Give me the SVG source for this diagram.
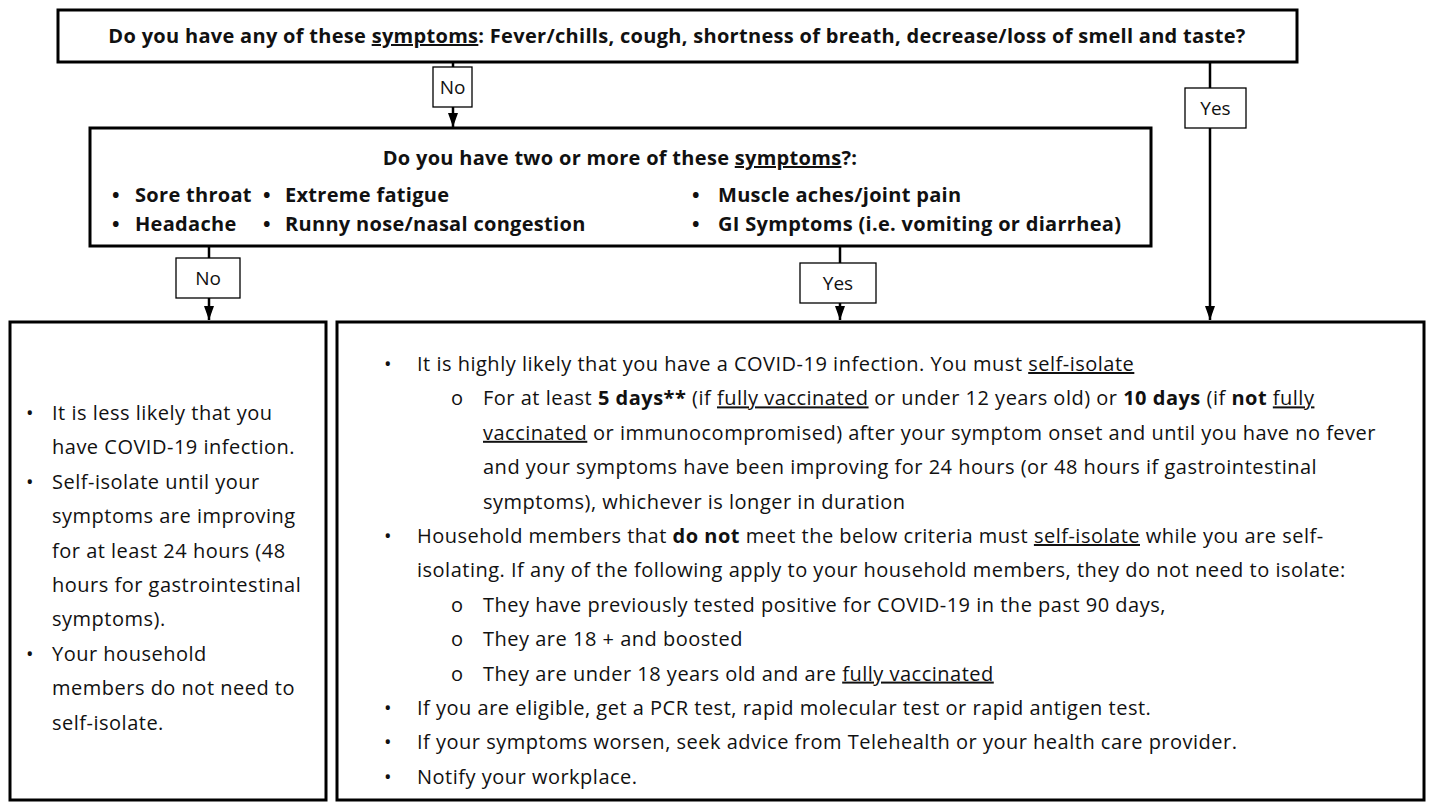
<svg xmlns="http://www.w3.org/2000/svg" width="1432" height="807" viewBox="0 0 1432 807">
<style>
.box{fill:#fff;stroke:#000;stroke-width:3}
.lbl{fill:#fff;stroke:#000;stroke-width:1.3}
.ln{stroke:#000;stroke-width:2.5;fill:none}
text{font-family:"Open Sans","Liberation Sans",sans-serif;fill:#111}
.t{font-size:20px;letter-spacing:0.5px}
.b{font-size:20px;font-weight:bold;letter-spacing:0.3px}
.u{text-decoration:underline}
.bo{font-weight:bold}
.l{font-size:19px}
</style>
<defs>
<marker id="ah" viewBox="0 0 14 10" refX="14" refY="5" markerWidth="14" markerHeight="10" markerUnits="userSpaceOnUse" orient="auto">
<path d="M0,0 L14,5 L0,10 Z" fill="#000"/>
</marker>
</defs>
<rect width="1432" height="807" fill="#fff"/>
<g id="connectors">
<line class="ln" x1="453" y1="62" x2="453" y2="127" marker-end="url(#ah)"/>
<line class="ln" x1="1210" y1="62" x2="1210" y2="320" marker-end="url(#ah)"/>
<line class="ln" x1="209" y1="246" x2="209" y2="320" marker-end="url(#ah)"/>
<line class="ln" x1="840" y1="246" x2="840" y2="320" marker-end="url(#ah)"/>
</g>
<g id="q1">
<rect class="box" x="58" y="10" width="1239" height="52"/>
<text class="b" x="677" y="43" text-anchor="middle">Do you have any of these <tspan class="u">symptoms</tspan>: Fever/chills, cough, shortness of breath, decrease/loss of smell and taste?</text>
</g>
<g id="no1">
<rect class="lbl" x="433" y="67" width="39" height="40"/>
<text class="l" x="452.5" y="94" text-anchor="middle">No</text>
</g>
<g id="yes1">
<rect class="lbl" x="1185" y="88" width="61" height="40"/>
<text class="l" x="1215.5" y="115" text-anchor="middle">Yes</text>
</g>
<g id="q2">
<rect class="box" x="90" y="128" width="1061" height="118"/>
<text class="b" x="620" y="165" text-anchor="middle">Do you have two or more of these <tspan class="u">symptoms</tspan>?:</text>
<text class="b"><tspan x="112" y="202">•</tspan><tspan x="135">Sore throat</tspan><tspan x="263">•</tspan><tspan x="285">Extreme fatigue</tspan><tspan x="692">•</tspan><tspan x="718">Muscle aches/joint pain</tspan></text>
<text class="b"><tspan x="112" y="231">•</tspan><tspan x="135">Headache</tspan><tspan x="263">•</tspan><tspan x="285">Runny nose/nasal congestion</tspan><tspan x="692">•</tspan><tspan x="718">GI Symptoms (i.e. vomiting or diarrhea)</tspan></text>
</g>
<g id="no2">
<rect class="lbl" x="176" y="258" width="64" height="40"/>
<text class="l" x="208" y="285" text-anchor="middle">No</text>
</g>
<g id="yes2">
<rect class="lbl" x="800" y="263" width="76" height="40"/>
<text class="l" x="838" y="290" text-anchor="middle">Yes</text>
</g>
<g id="outNo">
<rect class="box" x="10" y="322" width="316" height="478"/>
<text class="t">
<tspan x="26" y="420">•</tspan><tspan x="52">It is less likely that you</tspan>
<tspan x="52" y="454.4">have COVID-19 infection.</tspan>
<tspan x="26" y="488.8">•</tspan><tspan x="52">Self-isolate until your</tspan>
<tspan x="52" y="523.2">symptoms are improving</tspan>
<tspan x="52" y="557.6">for at least 24 hours (48</tspan>
<tspan x="52" y="592">hours for gastrointestinal</tspan>
<tspan x="52" y="626.4">symptoms).</tspan>
<tspan x="26" y="660.8">•</tspan><tspan x="52">Your household</tspan>
<tspan x="52" y="695.2">members do not need to</tspan>
<tspan x="52" y="729.6">self-isolate.</tspan>
</text>
</g>
<g id="outYes">
<rect class="box" x="337" y="322" width="1087" height="478"/>
<text class="t">
<tspan x="384" y="371">•</tspan><tspan x="417">It is highly likely that you have a COVID-19 infection. You must </tspan><tspan class="u">self-isolate</tspan>
<tspan x="451" y="405.4">o</tspan><tspan x="483">For at least </tspan><tspan class="bo">5 days**</tspan><tspan> (if </tspan><tspan class="u">fully vaccinated</tspan><tspan> or under 12 years old) or </tspan><tspan class="bo">10 days</tspan><tspan> (if </tspan><tspan class="bo">not</tspan><tspan> </tspan><tspan class="u">fully</tspan>
<tspan x="483" y="439.8" class="u">vaccinated</tspan><tspan> or immunocompromised) after your symptom onset and until you have no fever</tspan>
<tspan x="483" y="474.2">and your symptoms have been improving for 24 hours (or 48 hours if gastrointestinal</tspan>
<tspan x="483" y="508.6">symptoms), whichever is longer in duration</tspan>
<tspan x="384" y="543">•</tspan><tspan x="417">Household members that </tspan><tspan class="bo">do not</tspan><tspan> meet the below criteria must </tspan><tspan class="u">self-isolate</tspan><tspan> while you are self-</tspan>
<tspan x="417" y="577.4">isolating. If any of the following apply to your household members, they do not need to isolate:</tspan>
<tspan x="451" y="611.8">o</tspan><tspan x="483">They have previously tested positive for COVID-19 in the past 90 days,</tspan>
<tspan x="451" y="646.2">o</tspan><tspan x="483">They are 18 + and boosted</tspan>
<tspan x="451" y="680.6">o</tspan><tspan x="483">They are under 18 years old and are </tspan><tspan class="u">fully vaccinated</tspan>
<tspan x="384" y="715">•</tspan><tspan x="417">If you are eligible, get a PCR test, rapid molecular test or rapid antigen test.</tspan>
<tspan x="384" y="749.4">•</tspan><tspan x="417">If your symptoms worsen, seek advice from Telehealth or your health care provider.</tspan>
<tspan x="384" y="783.8">•</tspan><tspan x="417">Notify your workplace.</tspan>
</text>
</g>
</svg>
